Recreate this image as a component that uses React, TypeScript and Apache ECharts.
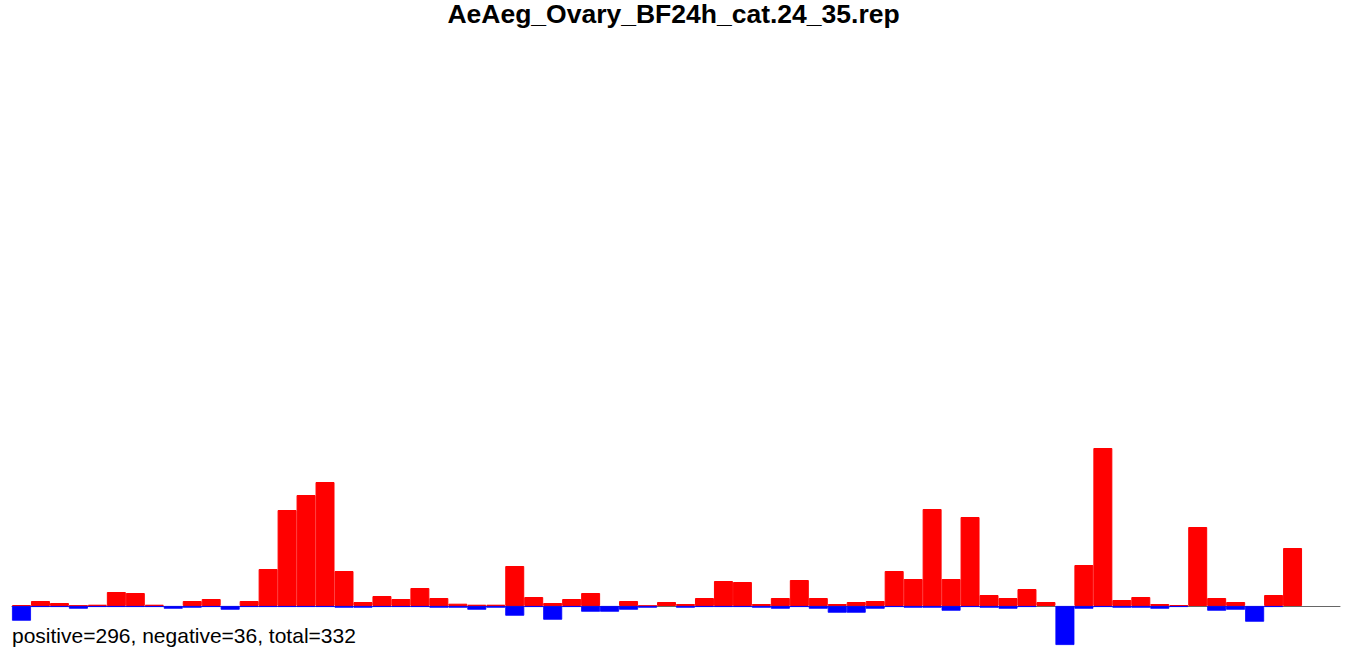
import React, { useEffect, useRef } from "react";
import * as echarts from "echarts";

const titleText = "AeAeg_Ovary_BF24h_cat.24_35.rep";
const footerText = "positive=296, negative=36, total=332";

// 70 category slots; the last two are empty
const categories: string[] = Array.from({ length: 70 }, (_, i) => String(i + 1));

const upValues: (number | null)[] = [
  1, 5, 3, 0.5, 1.3, 14, 13, 1.3, null, 5,
  7, null, 5, 37, 96, 111, 124, 35, 4, 10,
  7, 18, 8, 2.3, 1.3, 1.3, 40, 9, 3, 7,
  13, null, 5, 0.3, 4, 2, 8, 25, 24, 2,
  8, 26, 8, 2, 4, 5, 35, 27, 97, 27,
  89, 11, 8, 17, 4, null, 41, 158, 6, 9,
  2, 1, 79, 8, 4, null, 11, 58, null, null,
];

const downValues: (number | null)[] = [
  -14.7, -1, -1, -2.7, -1, -1, -1, -1, -2.7, -1.7,
  -1, -3.7, -1, -1, -1, -1, -1, -1.7, -1.7, -1,
  -1, -1, -1.7, -1.7, -3.7, -1.7, -9.7, -1, -13.7, -1,
  -5.7, -5.7, -3.7, -1.7, null, -1.7, -1, -1, -1, -1.7,
  -2.7, -1, -2.7, -6.7, -6.7, -2.7, -1, -1.7, -1.7, -4.7,
  -1, -1.7, -2.7, -1, null, -39, -2.7, -1, -1.7, -1.7,
  -2.7, -1, null, -4.7, -3.7, -15.7, -1, null, null, null,
];

export default function App() {
  const ref = useRef<HTMLDivElement>(null);

  useEffect(() => {
    if (!ref.current) return;
    const chart = echarts.init(ref.current, null, { renderer: "svg" });
    chart.setOption({
      animation: false,
      backgroundColor: "#ffffff",
      title: {
        text: titleText,
        left: "center",
        top: 0,
        padding: 0,
        textStyle: {
          fontFamily: "Liberation Sans",
          fontWeight: "bold",
          fontSize: 26.5,
          color: "#000000",
        },
      },
      grid: { left: 12, right: 7, top: 446, bottom: 1, containLabel: false },
      xAxis: {
        type: "category",
        data: categories,
        axisLine: { show: true, onZero: true, lineStyle: { color: "#666666", width: 1 } },
        axisTick: { show: false },
        axisLabel: { show: false },
        splitLine: { show: false },
      },
      yAxis: {
        type: "value",
        min: -48,
        max: 160,
        show: false,
        splitLine: { show: false },
      },
      series: [
        {
          name: "positive",
          type: "bar",
          data: upValues,
          barWidth: "100%",
          barGap: "-100%",
          itemStyle: { color: "#ff0000", borderColor: "#ff0000", borderWidth: 1 },
        },
        {
          name: "negative",
          type: "bar",
          data: downValues,
          barWidth: "100%",
          barGap: "-100%",
          itemStyle: { color: "#0000ff", borderColor: "#0000ff", borderWidth: 0.8 },
        },
      ],
      graphic: [
        {
          type: "text",
          left: 12,
          top: 625,
          style: {
            text: footerText,
            fontFamily: "Liberation Sans",
            fontSize: 21,
            fill: "#000000",
          },
        },
      ],
    });
    return () => chart.dispose();
  }, []);

  return (
    <div
      ref={ref}
      style={{ position: "absolute", left: 0, top: 0, width: 1347, height: 655 }}
    />
  );
}
